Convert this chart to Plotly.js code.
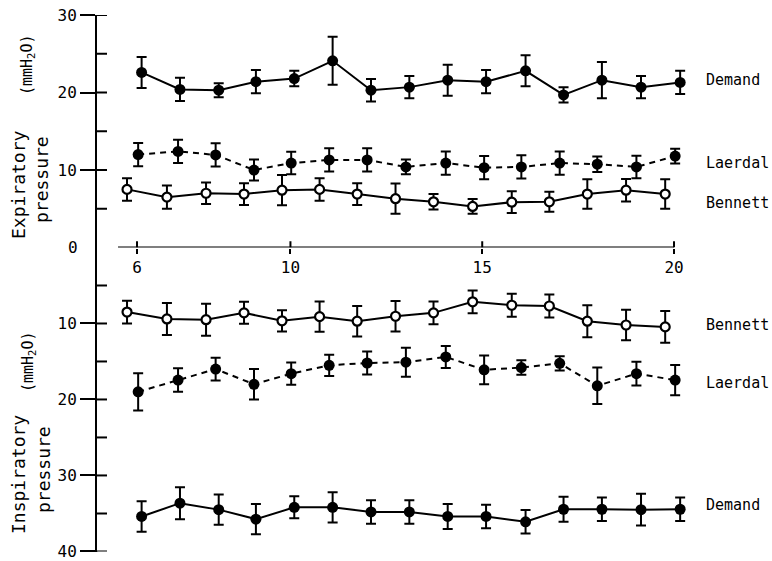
<!DOCTYPE html>
<html>
<head>
<meta charset="utf-8">
<script src="https://cdn.plot.ly/plotly-3.0.1.min.js"></script>
<style>html,body{margin:0;padding:0;background:#fff;}#chart{width:772px;height:561px;}</style>
</head>
<body>
<div id="chart"></div>
<script>
// Time positions of the plotted points (each series is slightly offset in the original)
const demandTime  = [6.12, 7.12, 8.13, 9.10, 10.10, 11.10, 12.10, 13.10, 14.10, 15.10, 16.13, 17.12, 18.12, 19.14, 20.16];
const laerdalTime = [6.03, 7.07, 8.05, 9.05, 10.02, 11.01, 12.00, 13.01, 14.05, 15.05, 16.02, 17.02, 18.00, 19.02, 20.03];
const bennettTime = [5.74, 6.78, 7.80, 8.79, 9.78, 10.76, 11.74, 12.74, 13.73, 14.75, 15.77, 16.75, 17.74, 18.75, 19.77];

// Expiratory pressure (mmH2O), mean and error
const demandExp     = [22.6, 20.4, 20.3, 21.4, 21.8, 24.1, 20.3, 20.7, 21.6, 21.4, 22.8, 19.7, 21.6, 20.7, 21.3];
const demandExpErr  = [2.0, 1.5, 0.9, 1.5, 1.0, 3.1, 1.45, 1.45, 2.0, 1.5, 2.0, 1.0, 2.35, 1.45, 1.5];
const laerdalExp    = [12.0, 12.4, 11.95, 10.0, 10.9, 11.3, 11.3, 10.4, 10.9, 10.3, 10.4, 10.9, 10.75, 10.4, 11.8];
const laerdalExpErr = [1.5, 1.5, 1.5, 1.35, 1.45, 1.5, 1.5, 0.95, 1.5, 1.5, 1.5, 1.5, 1.0, 1.45, 0.95];
const bennettExp    = [7.5, 6.5, 7.0, 6.9, 7.4, 7.5, 6.9, 6.3, 5.9, 5.3, 5.85, 5.9, 6.9, 7.4, 6.9];
const bennettExpErr = [1.45, 1.5, 1.4, 1.4, 1.95, 1.45, 1.4, 1.95, 1.0, 0.95, 1.4, 1.3, 1.9, 1.45, 1.9];

// Inspiratory pressure (mmH2O), mean and error
const bennettInsp    = [8.5, 9.4, 9.5, 8.6, 9.65, 9.1, 9.7, 9.05, 8.6, 7.15, 7.6, 7.7, 9.7, 10.2, 10.45];
const bennettInspErr = [1.5, 2.1, 2.1, 1.45, 1.4, 2.0, 2.0, 2.0, 1.5, 1.5, 1.5, 1.5, 2.1, 2.0, 2.1];
const laerdalInsp    = [19.0, 17.45, 16.0, 18.0, 16.6, 15.5, 15.2, 15.1, 14.4, 16.1, 15.8, 15.25, 18.2, 16.6, 17.45];
const laerdalInspErr = [2.45, 1.55, 1.5, 2.0, 1.45, 1.4, 1.5, 1.9, 1.45, 1.9, 0.95, 0.95, 2.4, 1.55, 2.0];
const demandInsp     = [35.4, 33.65, 34.5, 35.75, 34.2, 34.2, 34.8, 34.8, 35.4, 35.4, 36.1, 34.45, 34.45, 34.5, 34.45];
const demandInspErr  = [2.0, 2.1, 2.0, 2.0, 1.45, 2.0, 1.55, 1.55, 1.65, 1.55, 1.55, 1.65, 1.55, 2.1, 1.55];

// Tick labels
const timeTicks = [6, 10, 15, 20];
const expTicks = [10, 20, 30];
const inspTicks = [10, 20, 30, 40];
const expMinor = [5, 10, 15, 20, 25, 30];
const inspMinor = [5, 10, 15, 20, 25, 30, 35, 40];

const FONT = 'DejaVu Sans Mono, monospace';
const W = 772, H = 561;
const px = v => v / W;
const py = v => 1 - v / H;

function series(x, y, err, yaxis, filled, dashed) {
  return {
    type: 'scatter', mode: 'lines+markers', x: x, y: y, xaxis: 'x', yaxis: yaxis,
    line: {color: '#000', width: 2, dash: dashed ? '6px,5px' : 'solid'},
    marker: filled
      ? {symbol: 'circle', size: 11, color: '#000', line: {width: 0}}
      : {symbol: 'circle', size: 9, color: '#fff', line: {color: '#000', width: 2.2}},
    error_y: {type: 'data', array: err, visible: true, color: '#000', thickness: 2, width: 5},
    hoverinfo: 'skip', showlegend: false
  };
}

const data = [
  series(demandTime, demandExp, demandExpErr, 'y', true, false),
  series(laerdalTime, laerdalExp, laerdalExpErr, 'y', true, true),
  series(bennettTime, bennettExp, bennettExpErr, 'y', false, false),
  series(bennettTime, bennettInsp, bennettInspErr, 'y2', false, false),
  series(laerdalTime, laerdalInsp, laerdalInspErr, 'y2', true, true),
  series(demandTime, demandInsp, demandInspErr, 'y2', true, false)
];

const xRange = [4.957, 22.294];
const xDomain = [px(97), px(762)];
const yDomain = [py(247.5), py(15)];
const y2Domain = [py(551.5), py(247.5)];

const baseAxis = {showgrid: false, zeroline: false, fixedrange: true, automargin: false, ticklabeloverflow: 'allow'};
const tickFont = {family: FONT, size: 16, color: '#000'};

const layout = {
  width: W, height: H,
  margin: {l: 0, r: 0, t: 0, b: 0},
  paper_bgcolor: '#fff', plot_bgcolor: 'rgba(0,0,0,0)',
  showlegend: false,
  font: {family: FONT, color: '#000'},
  xaxis: Object.assign({}, baseAxis, {
    domain: xDomain, range: xRange, anchor: 'y', side: 'bottom',
    showline: false, tickmode: 'array', tickvals: timeTicks, ticktext: timeTicks.map(String),
    ticks: 'outside', ticklen: 5, tickwidth: 2, tickcolor: '#000', tickfont: tickFont
  }),
  yaxis: Object.assign({}, baseAxis, {
    domain: yDomain, range: [0, 30.01], anchor: 'x', side: 'left',
    showline: true, linecolor: '#000', linewidth: 2,
    tickmode: 'array', tickvals: expTicks, ticktext: expTicks.map(String),
    ticks: 'outside', ticklen: 15, tickwidth: 2, tickcolor: '#000', tickfont: tickFont
  }),
  yaxis2: Object.assign({}, baseAxis, {
    domain: y2Domain, range: [40.01, 0], anchor: 'x', side: 'left',
    showline: true, linecolor: '#000', linewidth: 2,
    tickmode: 'array', tickvals: inspTicks, ticktext: inspTicks.map(String),
    ticks: 'outside', ticklen: 15, tickwidth: 2, tickcolor: '#000', tickfont: tickFont
  }),
  shapes: [],
  annotations: []
};

const shp = layout.shapes;
const blk = {color: '#000', width: 2};
// time axis line along zero
shp.push({type: 'line', xref: 'x', yref: 'y', x0: 5.505, x1: 20, y0: 0, y1: 0, line: blk});
// upper half of the time ticks (the axis draws the lower half)
timeTicks.forEach(t => shp.push({type: 'line', xref: 'x', yref: 'y', x0: t, x1: t, y0: 0, y1: 0.8, line: blk}));
// inner ticks on the pressure axes
expMinor.forEach(v => shp.push({type: 'line', xref: 'paper', yref: 'y', x0: px(97), x1: px(107), y0: v, y1: v, line: blk}));
inspMinor.forEach(v => shp.push({type: 'line', xref: 'paper', yref: 'y2', x0: px(97), x1: px(107), y0: v, y1: v, line: blk}));
// short extension of the axis below 40
shp.push({type: 'line', xref: 'paper', yref: 'y2', x0: px(97), x1: px(97), y0: 40, y1: 40.9, line: blk});

const ann = layout.annotations;
const lab = {family: FONT, size: 15, color: '#000'};
function seriesLabel(text, yref, y) {
  ann.push({text: text, xref: 'x', yref: yref, x: 20.78, y: y, xanchor: 'left', yanchor: 'middle', showarrow: false, font: lab});
}
seriesLabel('Demand', 'y', 21.6);
seriesLabel('Laerdal', 'y', 10.9);
seriesLabel('Bennett', 'y', 5.7);
seriesLabel('Bennett', 'y2', 10.2);
seriesLabel('Laerdal', 'y2', 17.8);
seriesLabel('Demand', 'y2', 33.9);
ann.push({text: 'Time', xref: 'x', yref: 'y', x: 20.55, y: -0.6, xanchor: 'left', yanchor: 'middle', showarrow: false, font: lab});
ann.push({text: '0', xref: 'paper', yref: 'y', x: px(80), y: 0, xanchor: 'right', yanchor: 'middle', showarrow: false, font: tickFont});

const ttl = {family: FONT, size: 18, color: '#000'};
const unit = {family: FONT, size: 15, color: '#000'};
function vtext(text, x, y, font) {
  ann.push({text: text, xref: 'paper', yref: 'paper', x: px(x), y: py(y), xanchor: 'center', yanchor: 'middle', textangle: -90, showarrow: false, font: font});
}
vtext('Expiratory', 18, 185, ttl);
vtext('pressure', 42, 180, ttl);
vtext('(mmH<sub>2</sub>O)', 28, 64, unit);
vtext('Inspiratory', 18, 475, ttl);
vtext('pressure', 43, 470, ttl);
vtext('(mmH<sub>2</sub>O)', 28, 361, unit);

Plotly.newPlot('chart', data, layout, {staticPlot: true, displayModeBar: false});
</script>
</body>
</html>
